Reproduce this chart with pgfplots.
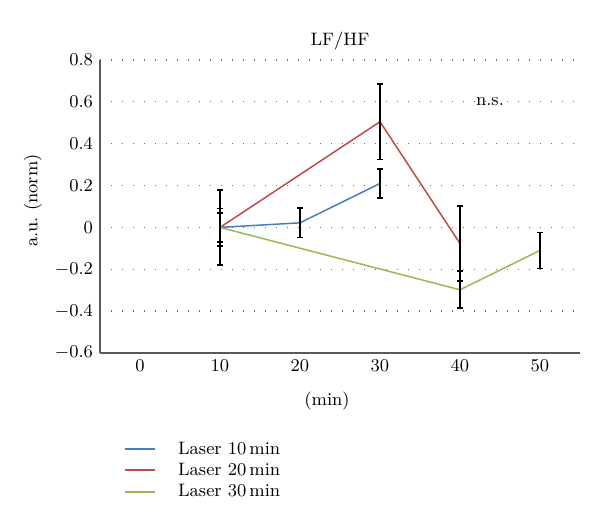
\documentclass[border=0pt]{standalone}
\usepackage{pgfplots}
\pgfplotsset{compat=1.18}
\definecolor{sblue}{HTML}{4A7EBB}
\definecolor{sred}{HTML}{BE4B48}
\definecolor{sgreen}{HTML}{98B954}
\definecolor{axgray}{HTML}{595959}
\begin{document}
\begin{tikzpicture}
\path[use as bounding box] (0,0) rectangle (300pt,265pt);
\begin{axis}[
  at={(50pt,88.5pt)}, anchor=south west,
  scale only axis, width=240pt, height=146.5pt,
  font=\small,
  xmin=-5, xmax=55, ymin=-0.6, ymax=0.8,
  xtick={0,10,20,30,40,50},
  ytick={-0.6,-0.4,-0.2,0,0.2,0.4,0.6,0.8},
  yticklabels={$-0.6$,$-0.4$,$-0.2$,$0$,$0.2$,$0.4$,$0.6$,$0.8$},
  major tick length=0pt,
  axis x line*=bottom, axis y line*=left,
  axis line style={-, axgray, line width=0.75pt},
  ymajorgrids, grid style={gray!85!black, line width=0.65pt, dash pattern=on 0.65pt off 4.85pt},
  title={LF/HF}, every axis title/.style={at={(0.5,1)}, anchor=center, yshift=9.5pt},
  xlabel={(min)}, every axis x label/.style={at={(0.473,0)}, anchor=center, yshift=-24pt},
  ylabel={a.u.\ (norm)}, every axis y label/.style={at={(axis description cs:-0.14,0.52)}, rotate=90, anchor=center},
  clip=false,
  legend style={draw=none, fill=none, at={(0.037,-0.275)}, anchor=north west, font=\small, row sep=-1pt, legend cell align=left,
    /tikz/every odd column/.append style={column sep=9pt}},
  legend image code/.code={\draw[#1, line width=1pt] (0pt,0.25pt) -- (15pt,0.25pt);},
  error bars/y dir=both, error bars/y explicit,
  error bars/error bar style={black, line width=0.9pt},
  error bars/error mark options={rotate=90, black, mark size=1.6pt, line width=0.9pt},
]
\addplot[sblue, line width=0.75pt, mark=none] coordinates {(10,0) +- (0,0.09) (20,0.022) +- (0,0.07) (30,0.21) +- (0,0.07)};
\addlegendentry{Laser 10\,min}
\addplot[sred, line width=0.75pt, mark=none] coordinates {(10,0) +- (0,0.18) (30,0.505) +- (0,0.18) (40,-0.077) +- (0,0.18)};
\addlegendentry{Laser 20\,min}
\addplot[sgreen, line width=0.75pt, mark=none] coordinates {(10,0) +- (0,0.07) (40,-0.298) +- (0,0.088) (50,-0.11) +- (0,0.086)};
\addlegendentry{Laser 30\,min}
\node[font=\small] at (axis cs:43.75,0.6) {n.s.};
\end{axis}
\end{tikzpicture}
\end{document}
